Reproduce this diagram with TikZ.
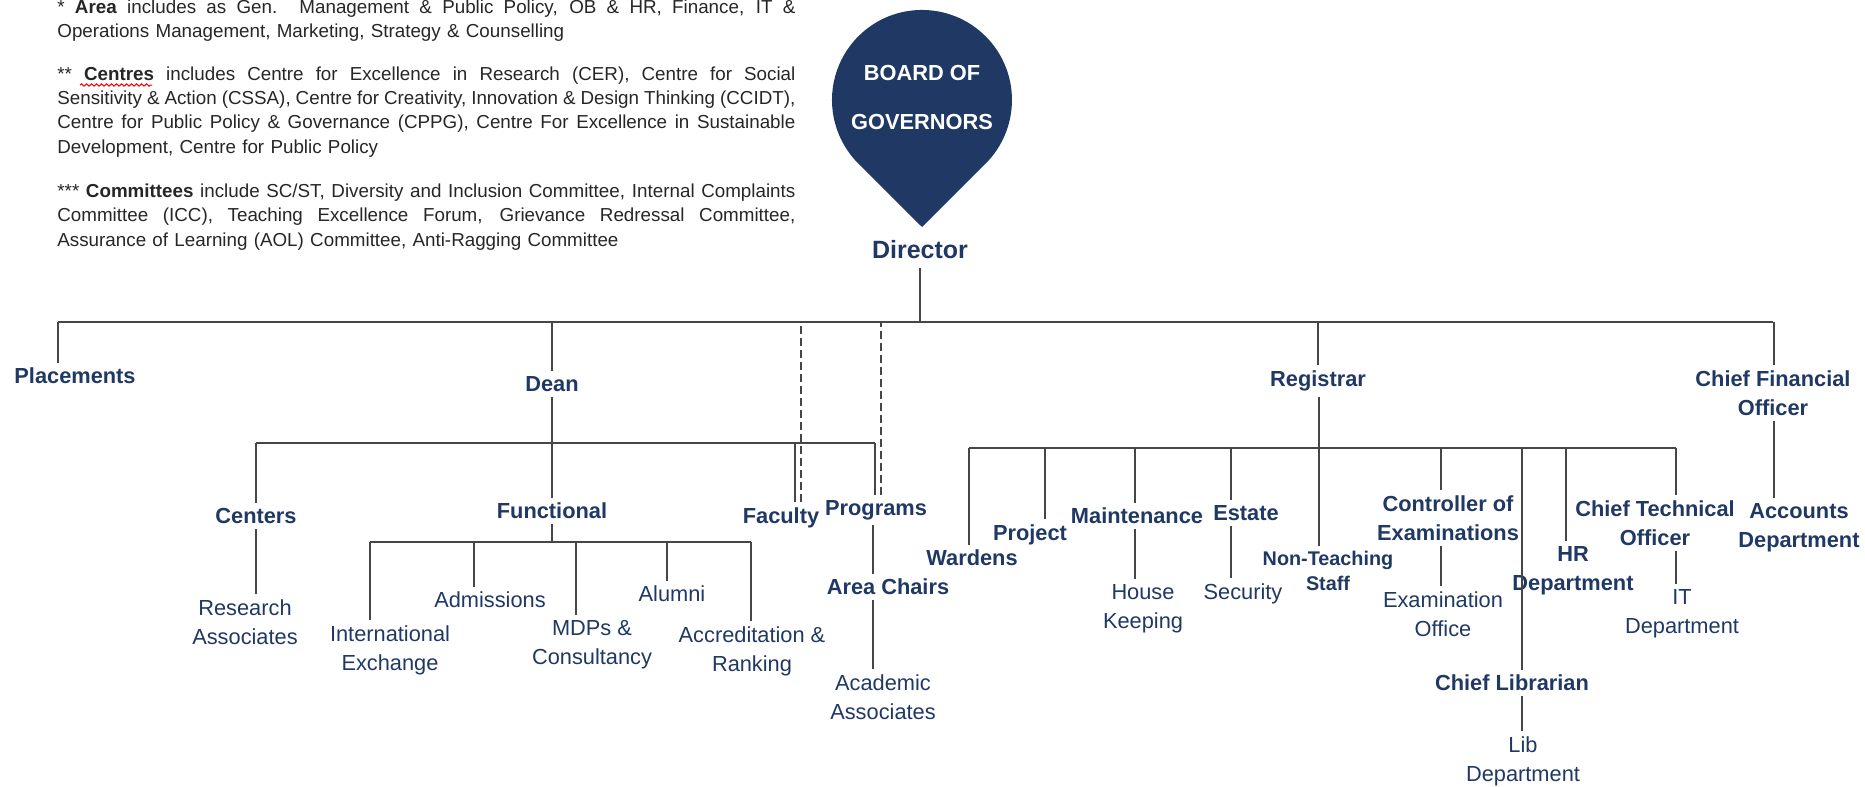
\documentclass[tikz,border=0pt]{standalone}
\usepackage{fontspec}
\setmainfont{Liberation Sans}
\usepackage{tikz}
\usetikzlibrary{positioning}
\usetikzlibrary{decorations.pathmorphing}
\definecolor{navy}{RGB}{31,56,100}
\definecolor{wire}{RGB}{70,70,70}
\definecolor{notegray}{RGB}{38,38,38}
\newcommand{\lblfont}{\fontsize{10.9}{14.5}\selectfont}
\newcommand{\notefont}{\fontsize{9.4}{12.25}\selectfont}
\newcommand{\fullline}[1]{\makebox[369pt][s]{\spaceskip=0pt\xspaceskip=0pt #1}}
\newcommand{\busdrop}[3]{\draw[tie] ([xshift=#3]#1.north) -- ([xshift=#3]#1.north |- #2);}
\newcommand{\stem}[3]{\draw[tie] ([xshift=#3]#1.south) -- ([xshift=#3]#1.south |- #2.north);}
\tikzset{
  every node/.style={
    text=navy,
    align=center,
    inner xsep=0pt,
    inner ysep=2.5pt,
    font=\lblfont
  },
  head/.style={font=\lblfont\bfseries},
  smallhead/.style={font=\fontsize{9.9}{12.5}\selectfont\bfseries},
  note/.style={anchor=base west, text width=369pt, align=left, inner sep=0pt, text=notegray, font=\notefont},
  tie/.style={draw=wire, line width=0.9pt},
  link/.style={tie, dash pattern=on 4pt off 2pt}
}

\begin{document}
\begin{tikzpicture}[x=0.5pt, y=-0.5pt]
        \useasboundingbox (0,0) rectangle (1865,787);
        \node[note] (AreaNote) at (57,13) {\fullline{* \textbf{Area} includes as Gen. Management \& Public Policy, OB \& HR, Finance, IT \&}\\
          Operations Management, Marketing, Strategy \& Counselling};
        \node[note] (CentreNote) at (57,80) {\fullline{** \textbf{Centres} includes Centre for Excellence in Research (CER), Centre for Social}\\
          \fullline{Sensitivity \& Action (CSSA), Centre for Creativity, Innovation \& Design Thinking (CCIDT),}\\
          \fullline{Centre for Public Policy \& Governance (CPPG), Centre For Excellence in Sustainable}\\
          Development, Centre for Public Policy};
        \node[note] (CommNote) at (57,197) {\fullline{*** \textbf{Committees} include SC/ST, Diversity and Inclusion Committee, Internal Complaints}\\
          \fullline{Committee (ICC), Teaching Excellence Forum, Grievance Redressal Committee,}\\
          Assurance of Learning (AOL) Committee, Anti-Ragging Committee};
        \draw[red, line width=0.5pt, decorate, decoration={snake, amplitude=0.6pt, segment length=2.5pt}] (80,85) -- (152,85);
        \fill[navy] (922,227) -- (985.5,163.7) arc[start angle=45.1, end angle=-225.1, radius=90] -- cycle;
        \node[text=white, font=\fontsize{10.9}{24.5}\selectfont\bfseries] (Board) at (922,97.5) {BOARD OF\\GOVERNORS};
        \node[font=\fontsize{12.5}{15}\selectfont\bfseries, inner ysep=4pt] (Dir) at (920,250) {Director};
        \coordinate (TopBus) at (0,322);
        \coordinate (DeanBus) at (0,443);
        \coordinate (FuncBus) at (0,542);
        \coordinate (RegBus) at (0,448);
        \node[head] (Place) at (75,376) {Placements};
        \node[head] (Dean) at (552,384) {Dean};
        \node[head] (Reg) at (1318,381) {Registrar};
        \node[head] (CFO) at (1773,393) {Chief Financial\\Officer};
        \node[head, on grid, below left=66pt and 148pt of Dean] (Cent) {Centers};
        \node[head, on grid, below=63.5pt of Dean] (Func) {Functional};
        \node[head, on grid, below right=67pt and 114.5pt of Dean] (Fac) {Faculty};
        \node[head, on grid, below right=63pt and 162pt of Dean] (Prog) {Programs};
        \node[on grid, below left=53pt and 5.5pt of Cent] (ResAs) {Research\\Associates};
        \node[on grid, below left=69.5pt and 81pt of Func] (IntEx) {International\\Exchange};
        \node[on grid, below left=44.5pt and 31pt of Func] (Adm) {Admissions};
        \node[on grid, below right=67pt and 20pt of Func] (MDP) {MDPs \&\\Consultancy};
        \node[on grid, below right=41.5pt and 60pt of Func] (Alum) {Alumni};
        \node[on grid, below right=70pt and 100pt of Func] (Accr) {Accreditation \&\\Ranking};
        \node[head, on grid, below right=38.5pt and 6pt of Prog] (AreaCh) {Area Chairs};
        \node[on grid, below left=55pt and 2.5pt of AreaCh] (AcadAs) {Academic\\Associates};
        \node[head, on grid, below left=88.5pt and 173pt of Reg] (Ward) {Wardens};
        \node[head, on grid, below left=77pt and 144pt of Reg] (Proj) {Project};
        \node[head, on grid, below left=67.5pt and 90.5pt of Reg] (Maint) {Maintenance};
        \node[head, on grid, below left=66pt and 36pt of Reg] (Est) {Estate};
        \node[smallhead, on grid, below right=95pt and 5pt of Reg] (NonT) {Non-Teaching\\Staff};
        \node[head, on grid, below right=68.5pt and 65pt of Reg] (Ctrl) {Controller of\\Examinations};
        \node[head, on grid, below right=151pt and 97pt of Reg] (ChLib) {Chief Librarian};
        \node[head, on grid, below right=95pt and 127.5pt of Reg] (HR) {HR\\Department};
        \node[head, on grid, below right=71pt and 168.5pt of Reg] (CTO) {Chief Technical\\Officer};
        \node[on grid, below right=46.5pt and 3pt of Maint] (HouseK) {House\\Keeping};
        \node[on grid, below left=40.5pt and 1.5pt of Est] (Sec) {Security};
        \node[on grid, below left=48pt and 2.5pt of Ctrl] (ExOff) {Examination\\Office};
        \node[on grid, below right=39pt and 5.5pt of ChLib] (LibDep) {Lib\\Department};
        \node[on grid, below right=45.5pt and 13.5pt of CTO] (ITDep) {IT\\Department};
        \node[head, on grid, below right=67.5pt and 13pt of CFO] (Acc) {Accounts\\Department};
        \draw[tie] (Dir.south) -- (Dir.south |- TopBus);
        \draw[tie] ([xshift=-8.5pt]Place.north |- TopBus) -- (CFO.north |- TopBus);
        \busdrop{Place}{TopBus}{-8.5pt}
        \busdrop{Dean}{TopBus}{0pt}
        \busdrop{Reg}{TopBus}{0pt}
        \busdrop{CFO}{TopBus}{0.5pt}
        \draw[link] ([xshift=10pt]Fac.north) -- ([xshift=10pt]Fac.north |- TopBus);
        \draw[link] ([xshift=2.5pt]Prog.north) -- ([xshift=2.5pt]Prog.north |- TopBus);
        \draw[tie] (Dean.south) -- (Func.north);
        \draw[tie] (Cent.north |- DeanBus) -- ([xshift=-0.5pt]Prog.north |- DeanBus);
        \busdrop{Cent}{DeanBus}{0pt}
        \busdrop{Fac}{DeanBus}{7pt}
        \busdrop{Prog}{DeanBus}{-0.5pt}
        \stem{Cent}{ResAs}{0pt}
        \draw[tie] (Func.south) -- (Func.south |- FuncBus);
        \draw[tie] ([xshift=-10pt]IntEx.north |- FuncBus) -- ([xshift=-0.5pt]Accr.north |- FuncBus);
        \busdrop{IntEx}{FuncBus}{-10pt}
        \busdrop{Adm}{FuncBus}{-8pt}
        \busdrop{MDP}{FuncBus}{-8pt}
        \busdrop{Alum}{FuncBus}{-2.5pt}
        \busdrop{Accr}{FuncBus}{-0.5pt}
        \stem{Prog}{AreaCh}{-1.5pt}
        \stem{AreaCh}{AcadAs}{-7.5pt}
        \stem{Reg}{NonT}{0.5pt}
        \draw[tie] ([xshift=-1.5pt]Ward.north |- RegBus) -- ([xshift=10.5pt]CTO.north |- RegBus);
        \busdrop{Ward}{RegBus}{-1.5pt}
        \busdrop{Proj}{RegBus}{7.5pt}
        \busdrop{Maint}{RegBus}{-1pt}
        \busdrop{Est}{RegBus}{-7.5pt}
        \busdrop{Ctrl}{RegBus}{-3.5pt}
        \busdrop{ChLib}{RegBus}{5pt}
        \busdrop{HR}{RegBus}{-3.5pt}
        \busdrop{CTO}{RegBus}{10.5pt}
        \stem{Maint}{HouseK}{-1pt}
        \stem{Est}{Sec}{-7.5pt}
        \stem{Ctrl}{ExOff}{-3.5pt}
        \stem{ChLib}{LibDep}{5pt}
        \stem{CTO}{ITDep}{10.5pt}
        \stem{CFO}{Acc}{0.5pt}
\end{tikzpicture}
\end{document}
